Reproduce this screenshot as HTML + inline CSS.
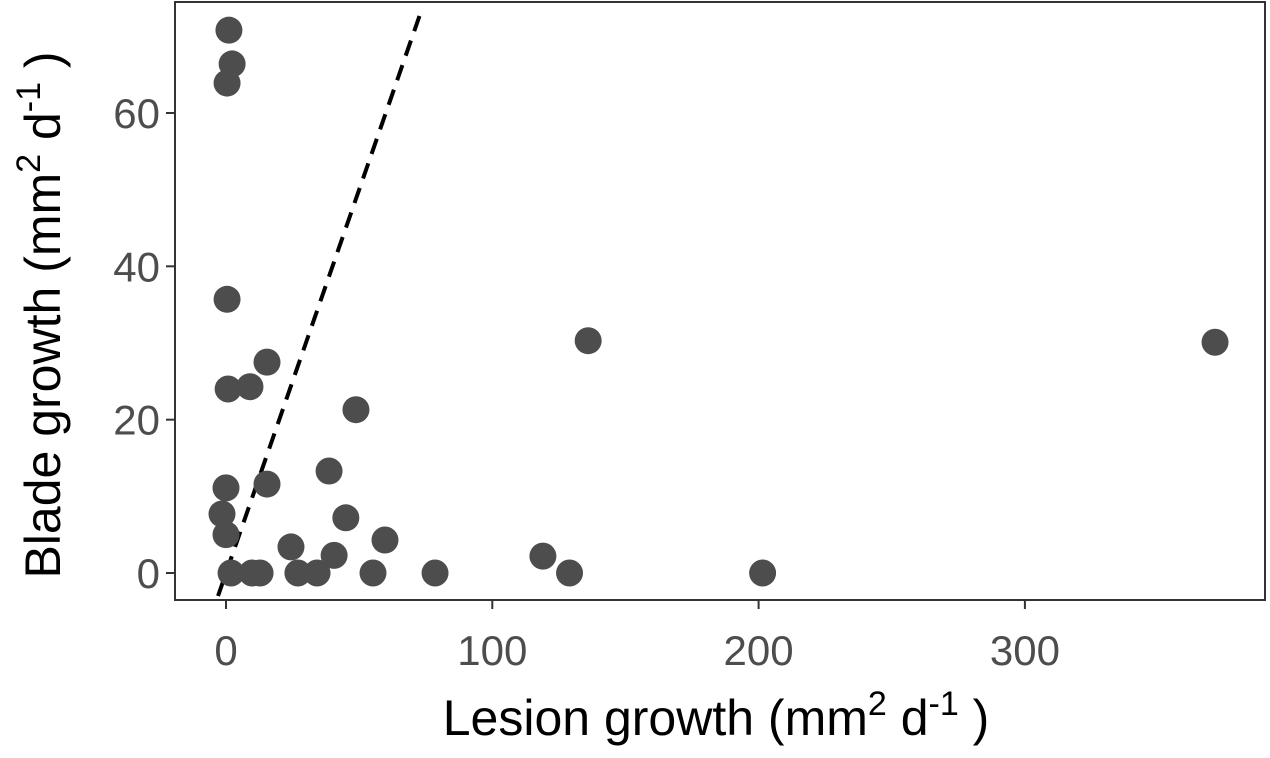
<!DOCTYPE html>
<html><head><meta charset="utf-8"><style>
html,body{margin:0;padding:0;background:#fff;}
svg{display:block;font-family:"Liberation Sans",Arial,sans-serif;}
</style></head><body>
<svg id="chart" width="1270" height="758">
<g id="plot"></g>
</svg>
<script>
const xs=[1.1,2.3,0.4,0.4,0.8,9,15.4,48.8,0,15.4,38.7,-1.5,0,45,24.4,40.6,59.7,1.9,9.8,12.8,27,34.2,55.2,78.5,119,129,136,201.5,371.4];
const ys=[70.8,66.4,63.9,35.7,24.0,24.3,27.5,21.3,11.1,11.6,13.3,7.7,5.0,7.2,3.4,2.3,4.3,0,0,0,0,0,0,0,2.2,0,30.3,0,30.1];
const xTicks=[0,100,200,300];
const yTicks=[0,20,40,60];
const refLine=[-3,73.6];
const NS='http://www.w3.org/2000/svg';
const L=175,R=1265,T=2,B=600;
const X=v=>226+v*2.663;
const Y=v=>573-v*7.667;
const g=document.getElementById('plot');
function mk(tag,a,parent){const e=document.createElementNS(NS,tag);for(const k in a)e.setAttribute(k,a[k]);(parent||g).appendChild(e);return e;}
const frame=mk('rect',{x:L,y:T,width:R-L,height:B-T,fill:'none',stroke:'#333',"stroke-width":2});


xTicks.forEach(t=>{
 const tk=mk('line',{x1:X(t),x2:X(t),y1:B,y2:B+9,stroke:'#333',"stroke-width":2});
 
 
 const tx=mk('text',{x:X(t),y:B+65,"text-anchor":"middle","font-size":42,fill:'#4d4d4d'});
 tx.textContent=t;
 
 
});
yTicks.forEach(t=>{
 const tk=mk('line',{x1:L-9,x2:L,y1:Y(t),y2:Y(t),stroke:'#333',"stroke-width":2});
 
 
 const tx=mk('text',{x:L-15,y:Y(t)+15,"text-anchor":"end","font-size":42,fill:'#4d4d4d'});
 tx.textContent=t;
 
 
});
const ln=mk('line',{x1:X(refLine[0]),y1:Y(refLine[0]),x2:X(refLine[1]),y2:Y(refLine[1]),stroke:'#000',"stroke-width":4,"stroke-dasharray":"16,10"});


xs.forEach((v,i)=>{
 const c=mk('circle',{cx:X(v),cy:Y(ys[i]),r:13.5,fill:'#4d4d4d'});
 
 
});
</script>
<svg style="position:absolute;left:0;top:0" width="1270" height="758">
<text x="716" y="735" text-anchor="middle" font-size="50" font-family="Liberation Sans, Arial, sans-serif" fill="#000">Lesion growth (mm<tspan dy="-20" font-size="34">2</tspan><tspan dy="20"> d</tspan><tspan dy="-20" font-size="34">-1</tspan><tspan dy="20"> )</tspan></text>
<text transform="translate(60,315) rotate(-90)" text-anchor="middle" font-size="50" font-family="Liberation Sans, Arial, sans-serif" fill="#000">Blade growth (mm<tspan dy="-20" font-size="34">2</tspan><tspan dy="20"> d</tspan><tspan dy="-20" font-size="34">-1</tspan><tspan dy="20"> )</tspan></text>
</svg>
</body></html>
